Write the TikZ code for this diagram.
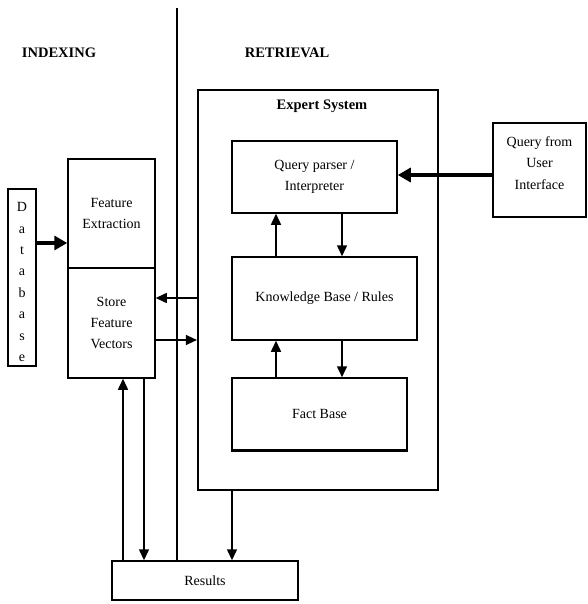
\documentclass[tikz,border=0pt]{standalone}
\usepackage{fontspec}
\setmainfont{Liberation Serif}
\usetikzlibrary{arrows.meta}
\usetikzlibrary{calc}

\begin{document}
\begin{tikzpicture}[x = 1pt, y = -1pt, line width = 1.5pt, >={Triangle[length = 11pt, width = 10pt]}]
		\useasboundingbox (0, 0) rectangle (587, 604);
		
		\begin{scope}[every node/.style={font = \fontsize{14.5}{16}\selectfont\bfseries}]
		\node (idx) at (59, 53) {INDEXING};
		\node (ret) at (287, 53) {RETRIEVAL};
		\node (esl) at (322, 106) {Expert System};
		\end{scope}
		
		\begin{scope}[every node/.style={rectangle, draw, inner sep = 0pt, align = center, font = \fontsize{14}{21}\selectfont}]
		\node (es) [minimum width = 240, minimum height = 400, line width = 2.2pt] at (318, 290) {};
		\node (db) [minimum width = 28, minimum height = 177] at (22, 277.5) {};
		\node (feat) [minimum width = 87, minimum height = 109] at (111.5, 213.5) {Feature\\Extraction};
		\node (store) [minimum width = 87, minimum height = 110] at (111.5, 323) {Store\\Feature\\Vectors};
		\node (qp) [minimum width = 165, minimum height = 72] at (314.5, 177) {Query parser /\\Interpreter};
		\node (kb) [minimum width = 185, minimum height = 83] at (324.5, 298.5) {Knowledge Base / Rules};
		\node (fb) [minimum width = 175, minimum height = 72] at (319.5, 414) {Fact Base};
		\node (ui) [minimum width = 93, minimum height = 94] at (539.5, 170) {};
		\node (res) [minimum width = 186, minimum height = 39] at (205, 580.5) {Results};
		\end{scope}
		
		\begin{scope}[every node/.style={align = center, inner sep = 0pt}]
		\node (dbt) [font = \fontsize{14}{21.4}\selectfont] at (22, 282) {D\\a\\t\\a\\b\\a\\s\\e};
		\node (uit) [font = \fontsize{14}{21.5}\selectfont] at (539.5, 163) {Query from\\User\\Interface};
		\end{scope}
		
		\draw [line width = 3pt] (fb.south west) -- (fb.south east);
		
		% levels and columns of the connectors
		\coordinate (top) at (177, 8);
		\coordinate (dbin) at (0, 243);
		\coordinate (qin) at (0, 175);
		\coordinate (sin) at (0, 298);
		\coordinate (sout) at (0, 340);
		\coordinate (ux) at (276, 0);
		\coordinate (dx) at (342, 0);
		\coordinate (rup) at (123, 0);
		\coordinate (rdn) at (144, 0);
		\coordinate (eout) at (232, 0);
		
		\draw (top) -- (top |- res.north);
		
		\begin{scope}[line width = 3.2pt, >={Triangle[length = 13pt, width = 14pt]}]
		\draw [->] (db.east |- dbin) -- (feat.west |- dbin);
		\draw [->] (ui.west |- qin) -- (qp.east |- qin);
		\end{scope}
		
		\draw [->] (kb.north -| ux) -- (qp.south -| ux);
		\draw [->] (qp.south -| dx) -- (kb.north -| dx);
		\draw [->] (fb.north -| ux) -- (kb.south -| ux);
		\draw [->] (kb.south -| dx) -- (fb.north -| dx);
		
		\draw [->] (es.west |- sin) -- (store.east |- sin);
		\draw [->] (store.east |- sout) -- (es.west |- sout);
		
		\draw [->] (res.north -| rup) -- (store.south -| rup);
		\draw [->] (store.south -| rdn) -- (res.north -| rdn);
		\draw [->] (es.south -| eout) -- (res.north -| eout);
		
\end{tikzpicture}
\end{document}
